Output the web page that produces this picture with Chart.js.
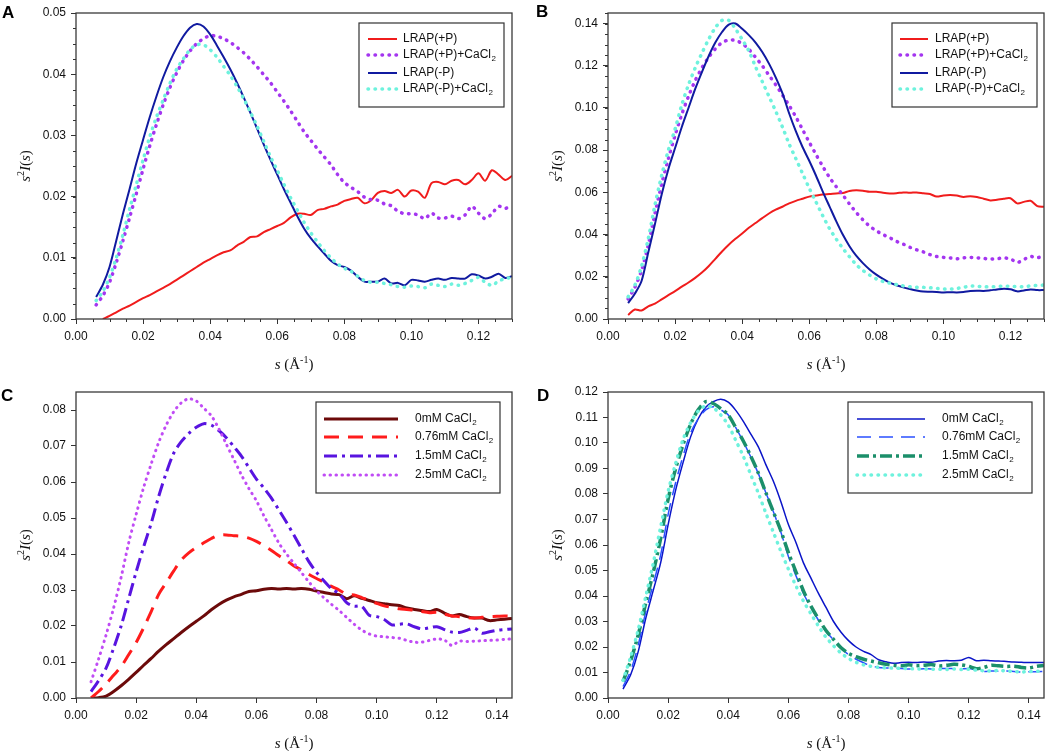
<!DOCTYPE html>
<html>
<head>
<meta charset="utf-8">
<script src="https://cdn.jsdelivr.net/npm/chart.js@4.4.0/dist/chart.umd.min.js"></script>
<style>
body { margin: 0; background: #fff; width: 1050px; height: 751px; position: relative; overflow: hidden; }
.panel { position: absolute; }
.tag { position: absolute; font: bold 17px "Liberation Sans", Arial, sans-serif; line-height: 17px; color: #000; }
</style>
</head>
<body>
<div class="panel" style="left:0;top:0"><canvas id="chartA" width="525" height="375"></canvas></div>
<div class="panel" style="left:525px;top:0"><canvas id="chartB" width="525" height="375"></canvas></div>
<div class="panel" style="left:0;top:375px"><canvas id="chartC" width="525" height="376"></canvas></div>
<div class="panel" style="left:525px;top:375px"><canvas id="chartD" width="525" height="376"></canvas></div>
<div class="tag" style="left:2px;top:4px">A</div>
<div class="tag" style="left:536px;top:3px">B</div>
<div class="tag" style="left:1px;top:387px">C</div>
<div class="tag" style="left:537px;top:387px">D</div>
<script>
// s values (1/Angstrom) for panels A and B
const sAB = [0.006,0.008,0.010,0.012,0.014,0.016,0.018,0.020,0.022,0.024,0.026,0.028,0.030,0.032,0.034,0.036,0.038,0.040,0.042,0.044,0.046,0.048,0.050,0.052,0.054,0.056,0.058,0.060,0.062,0.064,0.066,0.068,0.070,0.072,0.074,0.076,0.078,0.080,0.082,0.084,0.086,0.088,0.090,0.092,0.094,0.096,0.098,0.100,0.102,0.104,0.106,0.108,0.110,0.112,0.114,0.116,0.118,0.120,0.122,0.124,0.126,0.128,0.130];
// s values for panels C and D
const sCD = [0.005,0.0075,0.010,0.0125,0.015,0.0175,0.020,0.0225,0.025,0.0275,0.030,0.0325,0.035,0.0375,0.040,0.0425,0.045,0.0475,0.050,0.0525,0.055,0.0575,0.060,0.0625,0.065,0.0675,0.070,0.0725,0.075,0.0775,0.080,0.0825,0.085,0.0875,0.090,0.0925,0.095,0.0975,0.100,0.1025,0.105,0.1075,0.110,0.1125,0.115,0.1175,0.120,0.1225,0.125,0.1275,0.130,0.1325,0.135,0.1375,0.140,0.1425,0.145];

// panel A
const aPlusP = [null,0.0000,0.0005,0.0011,0.0017,0.0022,0.0028,0.0034,0.0039,0.0045,0.0051,0.0057,0.0064,0.0071,0.0078,0.0085,0.0092,0.0098,0.0104,0.0109,0.0112,0.0120,0.0126,0.0134,0.0135,0.0142,0.0147,0.0152,0.0157,0.0166,0.0172,0.0172,0.0170,0.0178,0.0180,0.0184,0.0187,0.0193,0.0196,0.0198,0.0189,0.0194,0.0206,0.0209,0.0206,0.0211,0.0200,0.0210,0.0208,0.0198,0.0222,0.0224,0.0220,0.0226,0.0227,0.0220,0.0227,0.0238,0.0226,0.0243,0.0236,0.0227,0.0234];
const aPlusPCa = [0.0023,0.0038,0.0060,0.0092,0.0128,0.0166,0.0205,0.0245,0.0283,0.0318,0.0350,0.0378,0.0402,0.0422,0.0438,0.0450,0.0458,0.0463,0.0462,0.0458,0.0452,0.0444,0.0435,0.0424,0.0412,0.0399,0.0386,0.0371,0.0356,0.0340,0.0323,0.0306,0.0292,0.0278,0.0265,0.0252,0.0236,0.0223,0.0215,0.0208,0.0199,0.0195,0.0194,0.0188,0.0185,0.0176,0.0172,0.0172,0.0170,0.0164,0.0173,0.0165,0.0165,0.0168,0.0164,0.0170,0.0184,0.0173,0.0164,0.0172,0.0184,0.0181,0.0184];
const aMinusP = [0.0036,0.0056,0.0085,0.0128,0.0172,0.0213,0.0255,0.0293,0.0330,0.0364,0.0395,0.0421,0.0443,0.0462,0.0476,0.0482,0.0478,0.0465,0.0447,0.0428,0.0408,0.0386,0.0362,0.0337,0.0311,0.0285,0.0260,0.0236,0.0212,0.0190,0.0168,0.0148,0.0132,0.0119,0.0107,0.0095,0.0088,0.0085,0.0079,0.0069,0.0061,0.0061,0.0061,0.0066,0.0058,0.0059,0.0055,0.0064,0.0063,0.0061,0.0064,0.0066,0.0064,0.0067,0.0066,0.0066,0.0073,0.0071,0.0066,0.0069,0.0074,0.0067,0.0070];
const aMinusPCa = [0.0030,0.0045,0.0068,0.0100,0.0138,0.0180,0.0220,0.0260,0.0298,0.0330,0.0358,0.0385,0.0408,0.0425,0.0440,0.0448,0.0448,0.0440,0.0428,0.0413,0.0398,0.0380,0.0360,0.0338,0.0315,0.0290,0.0265,0.0243,0.0220,0.0198,0.0178,0.0158,0.0141,0.0126,0.0112,0.0100,0.0090,0.0083,0.0078,0.0070,0.0063,0.0060,0.0060,0.0058,0.0056,0.0053,0.0052,0.0054,0.0053,0.0051,0.0057,0.0055,0.0053,0.0057,0.0055,0.0058,0.0063,0.0068,0.0060,0.0055,0.0062,0.0066,0.0068];

// panel B
const bPlusP = [0.0019,0.0045,0.0040,0.0060,0.0073,0.0093,0.0113,0.0132,0.0153,0.0173,0.0195,0.0220,0.0250,0.0285,0.0320,0.0352,0.0380,0.0405,0.0432,0.0455,0.0478,0.0500,0.0518,0.0532,0.0548,0.0560,0.0570,0.0580,0.0585,0.0590,0.0592,0.0595,0.0597,0.0607,0.0610,0.0608,0.0603,0.0603,0.0598,0.0595,0.0596,0.0600,0.0598,0.0600,0.0596,0.0592,0.0580,0.0585,0.0587,0.0585,0.0578,0.0582,0.0578,0.0570,0.0562,0.0565,0.0570,0.0572,0.0548,0.0555,0.0560,0.0535,0.0532];
const bPlusPCa = [0.0095,0.0150,0.0230,0.0350,0.0500,0.0640,0.0760,0.0870,0.0970,0.1055,0.1130,0.1190,0.1240,0.1280,0.1310,0.1322,0.1320,0.1305,0.1278,0.1240,0.1200,0.1155,0.1110,0.1062,0.1012,0.0958,0.0898,0.0838,0.0780,0.0724,0.0672,0.0628,0.0588,0.0545,0.0505,0.0470,0.0440,0.0418,0.0400,0.0385,0.0368,0.0355,0.0340,0.0328,0.0318,0.0305,0.0296,0.0292,0.0289,0.0285,0.0290,0.0292,0.0290,0.0287,0.0284,0.0286,0.0289,0.0285,0.0268,0.0282,0.0296,0.0290,0.0302];
const bMinusP = [0.0075,0.0120,0.0180,0.0315,0.0450,0.0590,0.0710,0.0810,0.0910,0.1000,0.1090,0.1170,0.1245,0.1310,0.1360,0.1395,0.1400,0.1375,0.1345,0.1310,0.1265,0.1210,0.1145,0.1070,0.0975,0.0890,0.0815,0.0750,0.0680,0.0605,0.0535,0.0465,0.0400,0.0345,0.0300,0.0265,0.0235,0.0210,0.0190,0.0172,0.0160,0.0150,0.0142,0.0135,0.0130,0.0129,0.0128,0.0126,0.0127,0.0126,0.0128,0.0133,0.0134,0.0133,0.0136,0.0140,0.0143,0.0141,0.0131,0.0135,0.0140,0.0137,0.0137];
const bMinusPCa = [0.0105,0.0160,0.0250,0.0380,0.0540,0.0680,0.0800,0.0900,0.1015,0.1110,0.1190,0.1260,0.1325,0.1380,0.1415,0.1415,0.1375,0.1325,0.1270,0.1195,0.1125,0.1055,0.0985,0.0910,0.0830,0.0760,0.0690,0.0620,0.0555,0.0490,0.0430,0.0380,0.0335,0.0295,0.0258,0.0230,0.0208,0.0190,0.0178,0.0170,0.0163,0.0157,0.0153,0.0150,0.0150,0.0148,0.0145,0.0142,0.0142,0.0145,0.0150,0.0156,0.0155,0.0153,0.0152,0.0154,0.0156,0.0155,0.0154,0.0153,0.0157,0.0159,0.0161];

// panel C
const c0mM = [0.0000,0.0001,0.0005,0.0018,0.0034,0.0052,0.0071,0.0091,0.0110,0.0130,0.0148,0.0165,0.0182,0.0198,0.0213,0.0228,0.0245,0.0260,0.0272,0.0281,0.0288,0.0296,0.0298,0.0302,0.0304,0.0303,0.0304,0.0303,0.0304,0.0302,0.0297,0.0293,0.0289,0.0287,0.0276,0.0284,0.0277,0.0271,0.0265,0.0262,0.0259,0.0257,0.0250,0.0246,0.0243,0.0240,0.0246,0.0236,0.0228,0.0232,0.0226,0.0222,0.0222,0.0215,0.0217,0.0219,0.0221];
const c076mM = [0.0000,0.0018,0.0039,0.0063,0.0087,0.0120,0.0154,0.0195,0.0240,0.0288,0.0320,0.0353,0.0383,0.0403,0.0418,0.0431,0.0443,0.0452,0.0453,0.0451,0.0449,0.0444,0.0435,0.0423,0.0410,0.0395,0.0382,0.0367,0.0356,0.0343,0.0332,0.0322,0.0310,0.0300,0.0288,0.0286,0.0279,0.0271,0.0263,0.0256,0.0252,0.0248,0.0246,0.0244,0.0240,0.0237,0.0238,0.0233,0.0228,0.0226,0.0223,0.0222,0.0224,0.0226,0.0227,0.0228,0.0227];
const c15mM = [0.0018,0.0048,0.0083,0.0138,0.0200,0.0275,0.0350,0.0420,0.0485,0.0560,0.0625,0.0680,0.0712,0.0735,0.0752,0.0762,0.0758,0.0743,0.0723,0.0698,0.0672,0.0640,0.0608,0.0583,0.0555,0.0522,0.0488,0.0452,0.0415,0.0378,0.0349,0.0325,0.0303,0.0290,0.0265,0.0255,0.0255,0.0230,0.0226,0.0218,0.0203,0.0205,0.0206,0.0198,0.0192,0.0195,0.0198,0.0190,0.0183,0.0182,0.0188,0.0194,0.0180,0.0184,0.0188,0.0190,0.0192];
const c25mM = [0.0045,0.0108,0.0175,0.0250,0.0335,0.0430,0.0510,0.0585,0.0650,0.0710,0.0758,0.0795,0.0820,0.0831,0.0825,0.0805,0.0784,0.0748,0.0705,0.0663,0.0620,0.0582,0.0548,0.0506,0.0468,0.0430,0.0400,0.0374,0.0348,0.0322,0.0298,0.0278,0.0260,0.0243,0.0224,0.0205,0.0189,0.0178,0.0172,0.0170,0.0168,0.0166,0.0160,0.0155,0.0155,0.0160,0.0164,0.0161,0.0146,0.0158,0.0157,0.0158,0.0159,0.0160,0.0161,0.0163,0.0164];

// panel D
const d0mM = [0.0035,0.0090,0.0180,0.0310,0.0420,0.0530,0.0680,0.0815,0.0925,0.1025,0.1095,0.1140,0.1162,0.1172,0.1160,0.1128,0.1085,0.1035,0.0985,0.0915,0.0850,0.0770,0.0680,0.0610,0.0530,0.0470,0.0410,0.0355,0.0300,0.0258,0.0225,0.0200,0.0183,0.0170,0.0150,0.0142,0.0136,0.0139,0.0140,0.0139,0.0141,0.0140,0.0145,0.0147,0.0146,0.0148,0.0159,0.0146,0.0148,0.0146,0.0145,0.0143,0.0141,0.0140,0.0139,0.0139,0.0139];
const d076mM = [0.0045,0.0105,0.0205,0.0335,0.0445,0.0560,0.0720,0.0845,0.0950,0.1040,0.1095,0.1130,0.1142,0.1130,0.1110,0.1060,0.1005,0.0945,0.0880,0.0805,0.0730,0.0650,0.0555,0.0480,0.0410,0.0355,0.0305,0.0262,0.0228,0.0196,0.0170,0.0152,0.0138,0.0126,0.0120,0.0118,0.0117,0.0116,0.0114,0.0113,0.0115,0.0114,0.0115,0.0116,0.0115,0.0114,0.0116,0.0110,0.0104,0.0106,0.0105,0.0106,0.0104,0.0102,0.0103,0.0103,0.0104];
const d15mM = [0.0065,0.0145,0.0245,0.0370,0.0490,0.0625,0.0780,0.0900,0.0995,0.1075,0.1130,0.1162,0.1155,0.1135,0.1110,0.1060,0.1008,0.0948,0.0882,0.0805,0.0730,0.0655,0.0570,0.0495,0.0420,0.0360,0.0310,0.0265,0.0230,0.0197,0.0175,0.0162,0.0152,0.0145,0.0138,0.0132,0.0128,0.0126,0.0130,0.0127,0.0128,0.0131,0.0126,0.0128,0.0132,0.0130,0.0124,0.0115,0.0120,0.0128,0.0126,0.0124,0.0125,0.0120,0.0118,0.0124,0.0128];
const d25mM = [0.0069,0.0160,0.0265,0.0395,0.0525,0.0670,0.0810,0.0920,0.1015,0.1080,0.1125,0.1145,0.1138,0.1110,0.1070,0.1010,0.0948,0.0875,0.0803,0.0725,0.0650,0.0575,0.0505,0.0440,0.0380,0.0330,0.0282,0.0238,0.0205,0.0176,0.0155,0.0140,0.0130,0.0124,0.0120,0.0118,0.0117,0.0116,0.0115,0.0114,0.0114,0.0113,0.0113,0.0112,0.0114,0.0112,0.0113,0.0109,0.0107,0.0106,0.0108,0.0106,0.0104,0.0102,0.0104,0.0105,0.0105];

const sansFont = '"Liberation Sans", Arial, sans-serif';
const serifFont = '"Liberation Serif", "Times New Roman", serif';
const dotted = [0.5, 6.5];

function drawPieces(ctx, pieces, cx, baseY) {
    let total = 0;
    pieces.forEach(p => { ctx.font = p[0]; total += ctx.measureText(p[1]).width; });
    let xPos = cx - total / 2;
    pieces.forEach(p => {
        ctx.font = p[0];
        ctx.fillText(p[1], xPos, baseY + p[2]);
        xPos += ctx.measureText(p[1]).width;
    });
}

// frame, minor ticks, axis titles and the boxed legend
const panelDecor = {
    id: 'panelDecor',
    afterDatasetsDraw(chart, args, o) {
        const ctx = chart.ctx;
        const a = chart.chartArea;
        const xs = chart.scales.x, ys = chart.scales.y;
        ctx.save();
        ctx.strokeStyle = '#333';
        ctx.lineWidth = 1;
        if (o.xMinor) {
            for (let k = 0; k * o.xMinor <= xs.max + 1e-9; k++) {
                const px = Math.round(xs.getPixelForValue(k * o.xMinor)) + 0.5;
                ctx.beginPath(); ctx.moveTo(px, a.bottom); ctx.lineTo(px, a.bottom + 3); ctx.stroke();
            }
        }
        if (o.yMinor) {
            for (let k = 0; k * o.yMinor <= ys.max + 1e-9; k++) {
                const py = Math.round(ys.getPixelForValue(k * o.yMinor)) + 0.5;
                ctx.beginPath(); ctx.moveTo(a.left, py); ctx.lineTo(a.left - 3, py); ctx.stroke();
            }
        }
        ctx.strokeStyle = '#3a3a3a';
        ctx.lineWidth = 1.3;
        ctx.strokeRect(a.left, a.top, a.right - a.left, a.bottom - a.top);

        // axis titles
        ctx.fillStyle = '#111';
        ctx.textBaseline = 'alphabetic';
        ctx.textAlign = 'left';
        drawPieces(ctx, [
            ['italic 15px ' + serifFont, 's', 0],
            ['15px ' + serifFont, ' (\u00C5', 0],
            ['10px ' + serifFont, '-1', -6],
            ['15px ' + serifFont, ')', 0]
        ], (a.left + a.right) / 2, a.bottom + 50);
        ctx.save();
        ctx.translate(a.left - 51, (a.top + a.bottom) / 2);
        ctx.rotate(-Math.PI / 2);
        drawPieces(ctx, [
            ['italic 15px ' + serifFont, 's', 0],
            ['10px ' + serifFont, '2', -6],
            ['italic 15px ' + serifFont, 'I', 0],
            ['15px ' + serifFont, '(', 0],
            ['italic 15px ' + serifFont, 's', 0],
            ['15px ' + serifFont, ')', 0]
        ], 0, 5);
        ctx.restore();

        // legend
        const lg = o.legend;
        ctx.fillStyle = '#fff';
        ctx.fillRect(lg.left, lg.top, lg.width, lg.height);
        ctx.strokeStyle = '#333';
        ctx.lineWidth = 1.2;
        ctx.strokeRect(lg.left, lg.top, lg.width, lg.height);
        chart.data.datasets.forEach((ds, i) => {
            const ry = lg.rows[i];
            ctx.save();
            ctx.strokeStyle = ds.borderColor;
            ctx.lineWidth = ds.borderWidth;
            ctx.lineCap = ds.borderCapStyle;
            ctx.setLineDash(ds.borderDash);
            ctx.beginPath(); ctx.moveTo(lg.lineFrom, ry); ctx.lineTo(lg.lineTo, ry); ctx.stroke();
            ctx.restore();
            ctx.fillStyle = '#111';
            ctx.textBaseline = 'middle';
            let label = ds.label;
            let sub = '';
            if (label.endsWith('\u2082')) { sub = '2'; label = label.slice(0, -1); }
            ctx.font = '12px ' + sansFont;
            ctx.fillText(label, lg.textX, ry);
            if (sub) {
                const w = ctx.measureText(label).width;
                ctx.font = '8px ' + sansFont;
                ctx.fillText(sub, lg.textX + w + 0.5, ry + 4);
            }
        });
        ctx.restore();
    }
};

function makePanel(canvasId, sValues, series, cfg) {
    const n = series.length;
    new Chart(document.getElementById(canvasId), {
        type: 'line',
        data: {
            datasets: series.map((sr, i) => ({
                label: sr.label,
                data: sValues.map((s, k) => ({x: s, y: sr.values[k]})),
                borderColor: sr.color,
                borderWidth: sr.width,
                borderDash: sr.dash || [],
                borderCapStyle: sr.cap || 'butt',
                pointRadius: 0,
                tension: 0.3,
                fill: false,
                order: n - i
            }))
        },
        options: {
            responsive: false,
            animation: false,
            events: [],
            layout: {padding: {top: cfg.padTop, right: cfg.padRight, left: 0, bottom: 0}},
            plugins: {
                legend: {display: false},
                tooltip: {enabled: false},
                panelDecor: cfg.decor
            },
            scales: {
                x: {
                    type: 'linear', min: 0, max: cfg.xMax,
                    afterFit: sc => { sc.height = cfg.xAxisHeight; },
                    border: {display: false},
                    grid: {drawOnChartArea: false, tickLength: 5, tickColor: '#333', tickWidth: 1},
                    ticks: {stepSize: 0.02, includeBounds: false, autoSkip: false, maxRotation: 0, padding: 5,
                            color: '#111', font: {family: sansFont, size: 12}, callback: v => v.toFixed(2)}
                },
                y: {
                    min: 0, max: cfg.yMax,
                    afterFit: sc => { sc.width = cfg.yAxisWidth; },
                    border: {display: false},
                    grid: {drawOnChartArea: false, tickLength: 5, tickColor: '#333', tickWidth: 1},
                    ticks: {stepSize: cfg.yStep, includeBounds: false, autoSkip: false, padding: 5,
                            color: '#111', font: {family: sansFont, size: 12}, callback: v => v.toFixed(2)}
                }
            }
        },
        plugins: [panelDecor]
    });
}

const legendAB = {width: 145, height: 84, rows: [39, 55, 73, 89]};
const legendCD = {width: 184, height: 91, rows: [44, 62, 81, 100]};

makePanel('chartA', sAB, [
    {label: 'LRAP(+P)', values: aPlusP, color: '#f01c1c', width: 2},
    {label: 'LRAP(+P)+CaCl\u2082', values: aPlusPCa, color: '#a435f0', width: 3.5, dash: dotted, cap: 'round'},
    {label: 'LRAP(-P)', values: aMinusP, color: '#101aa0', width: 2},
    {label: 'LRAP(-P)+CaCl\u2082', values: aMinusPCa, color: '#6ef2dd', width: 3.5, dash: dotted, cap: 'round'}
], {
    xMax: 0.13, yMax: 0.05, yStep: 0.01, padTop: 13, padRight: 13, xAxisHeight: 56, yAxisWidth: 76,
    decor: {xMinor: 0.005, yMinor: 0.0025,
            legend: Object.assign({left: 359, top: 23, lineFrom: 368, lineTo: 397, textX: 403}, legendAB)}
});

makePanel('chartB', sAB, [
    {label: 'LRAP(+P)', values: bPlusP, color: '#f01c1c', width: 2},
    {label: 'LRAP(+P)+CaCl\u2082', values: bPlusPCa, color: '#a435f0', width: 3.5, dash: dotted, cap: 'round'},
    {label: 'LRAP(-P)', values: bMinusP, color: '#101aa0', width: 2},
    {label: 'LRAP(-P)+CaCl\u2082', values: bMinusPCa, color: '#6ef2dd', width: 3.5, dash: dotted, cap: 'round'}
], {
    xMax: 0.13, yMax: 0.145, yStep: 0.02, padTop: 13, padRight: 6, xAxisHeight: 56, yAxisWidth: 83,
    decor: {xMinor: 0.005, yMinor: 0.005,
            legend: Object.assign({left: 367, top: 23, lineFrom: 375, lineTo: 403, textX: 410}, legendAB)}
});

makePanel('chartC', sCD, [
    {label: '0mM CaCl\u2082', values: c0mM, color: '#6c0a0a', width: 3},
    {label: '0.76mM CaCl\u2082', values: c076mM, color: '#ff1c1c', width: 3, dash: [15, 9]},
    {label: '1.5mM CaCl\u2082', values: c15mM, color: '#5814e0', width: 3, dash: [13, 5, 3, 5]},
    {label: '2.5mM CaCl\u2082', values: c25mM, color: '#c04cf5', width: 3, dash: [0.5, 5.5], cap: 'round'}
], {
    xMax: 0.145, yMax: 0.085, yStep: 0.01, padTop: 17, padRight: 13, xAxisHeight: 53, yAxisWidth: 76,
    decor: {legend: Object.assign({left: 316, top: 27, lineFrom: 324, lineTo: 398, textX: 415}, legendCD)}
});

makePanel('chartD', sCD, [
    {label: '0mM CaCl\u2082', values: d0mM, color: '#0a14c8', width: 1.5},
    {label: '0.76mM CaCl\u2082', values: d076mM, color: '#2a50ff', width: 1.5, dash: [14, 8]},
    {label: '1.5mM CaCl\u2082', values: d15mM, color: '#1b8f6a', width: 3.5, dash: [12, 4, 3, 4]},
    {label: '2.5mM CaCl\u2082', values: d25mM, color: '#6ef2dd', width: 3.5, dash: dotted, cap: 'round'}
], {
    xMax: 0.145, yMax: 0.12, yStep: 0.01, padTop: 17, padRight: 6, xAxisHeight: 53, yAxisWidth: 83,
    decor: {legend: Object.assign({left: 323, top: 27, lineFrom: 332, lineTo: 400, textX: 417}, legendCD)}
});
</script>
</body>
</html>
